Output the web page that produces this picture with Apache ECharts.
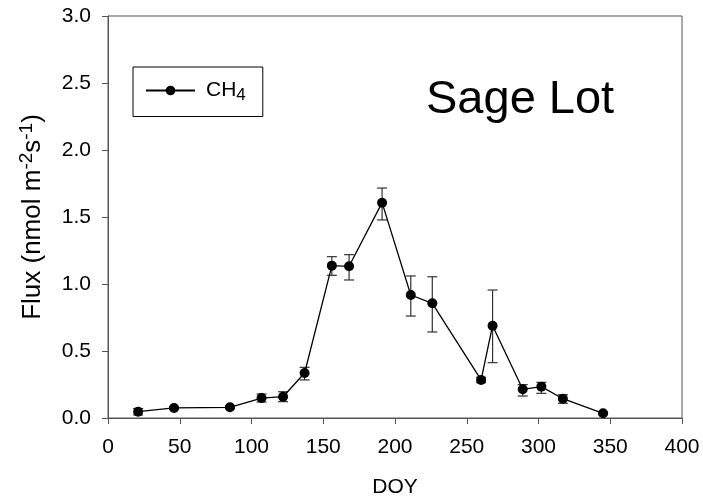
<!DOCTYPE html>
<html>
<head>
<meta charset="utf-8">
<script src="https://cdn.jsdelivr.net/npm/echarts@6/dist/echarts.min.js"></script>
<style>
  html, body { margin: 0; padding: 0; background: #fff; }
  #chart { width: 703px; height: 499px; }
</style>
</head>
<body>
<div id="chart"></div>
<script>
// 数据
const doy = [21, 46, 85, 107, 122, 137, 156, 168, 191, 211, 226, 260, 268, 289, 302, 317, 345];
const flux = [0.047, 0.075, 0.08, 0.149, 0.159, 0.336, 1.137, 1.132, 1.607, 0.918, 0.856, 0.284, 0.689, 0.214, 0.234, 0.144, 0.035];
const fluxUpper = [0.071, 0.085, 0.09, 0.179, 0.196, 0.378, 1.204, 1.219, 1.716, 1.06, 1.054, 0.304, 0.955, 0.249, 0.266, 0.174, 0.045];
const fluxLower = [0.023, 0.065, 0.07, 0.119, 0.122, 0.284, 1.065, 1.03, 1.478, 0.761, 0.642, 0.264, 0.413, 0.164, 0.184, 0.11, 0.025];
const xTicks = [0, 50, 100, 150, 200, 250, 300, 350, 400];
const yTicks = [0, 0.5, 1.0, 1.5, 2.0, 2.5, 3.0];

(function () {
    const el = document.getElementById('chart')
    const chart = echarts.init(el)
    const font = 'Liberation Sans, Arial, sans-serif'
    const axisColor = '#555'

    const points = doy.map((d, i) => [d, flux[i]])
    const bars = doy.map((d, i) => [d, fluxLower[i], fluxUpper[i]])

    //误差线
    function renderError(params, api) {
        const x = api.value(0)
        const lo = api.coord([x, api.value(1)])
        const hi = api.coord([x, api.value(2)])
        const half = 5
        const style = { stroke: '#333', lineWidth: 1.2 }
        return {
            type: 'group',
            children: [
                { type: 'line', shape: { x1: lo[0], y1: lo[1], x2: hi[0], y2: hi[1] }, style: style },
                { type: 'line', shape: { x1: hi[0] - half, y1: hi[1], x2: hi[0] + half, y2: hi[1] }, style: style },
                { type: 'line', shape: { x1: lo[0] - half, y1: lo[1], x2: lo[0] + half, y2: lo[1] }, style: style }
            ]
        }
    }

    const option = {
        backgroundColor: '#fff',
        animation: false,
        textStyle: { fontFamily: font },
        title: {
            text: 'Sage Lot',
            left: 421,
            top: 72,
            textStyle: { fontFamily: font, fontSize: 47, fontWeight: 'normal', color: '#000' }
        },
        legend: {
            left: 133,
            top: 67,
            padding: [13, 17, 13, 12],
            borderColor: '#000',
            borderWidth: 1,
            itemWidth: 49,
            itemHeight: 12,
            itemGap: 0,
            data: ['CH4'],
            formatter: function () { return 'CH{sub|4}' },
            textStyle: {
                fontFamily: font,
                fontSize: 21,
                color: '#000',
                padding: [0, 0, 0, 6],
                rich: {
                    sub: { fontFamily: font, fontSize: 17, color: '#000', padding: [9, 0, 0, 0] }
                }
            }
        },
        grid: {
            left: 108,
            right: 21,
            top: 16,
            bottom: 81,
            outerBoundsMode: 'none',
            containLabel: false,
            show: true,
            borderColor: axisColor,
            borderWidth: 1,
            backgroundColor: 'transparent'
        },
        xAxis: {
            type: 'value',
            min: xTicks[0],
            max: xTicks[xTicks.length - 1],
            interval: 50,
            name: 'DOY',
            nameLocation: 'middle',
            nameGap: 59,
            nameTextStyle: { fontFamily: font, fontSize: 21, color: '#000' },
            axisLine: { show: true, lineStyle: { color: axisColor, width: 1 } },
            axisTick: { show: true, inside: false, length: 6, lineStyle: { color: axisColor } },
            axisLabel: { margin: 19, fontFamily: font, fontSize: 21, color: '#000' },
            splitLine: { show: false }
        },
        yAxis: {
            type: 'value',
            min: yTicks[0],
            max: yTicks[yTicks.length - 1],
            interval: 0.5,
            name: 'Flux (nmol m{sup|-2}s{sup|-1})',
            nameLocation: 'middle',
            nameGap: 60,
            nameTextStyle: {
                fontFamily: font,
                fontSize: 26,
                color: '#000',
                rich: {
                    sup: { fontFamily: font, fontSize: 19, color: '#000', padding: [0, 0, 12, 0] }
                }
            },
            axisLine: { show: true, lineStyle: { color: axisColor, width: 1 } },
            axisTick: { show: true, inside: false, length: 6, lineStyle: { color: axisColor } },
            axisLabel: {
                margin: 17,
                fontFamily: font,
                fontSize: 21,
                color: '#000',
                formatter: v => v.toFixed(1)
            },
            splitLine: { show: false }
        },
        series: [
            {
                name: 'CH4',
                type: 'line',
                data: points,
                symbol: 'circle',
                symbolSize: 10,
                itemStyle: { color: '#000' },
                lineStyle: { color: '#000', width: 1.3 },
                z: 3
            },
            {
                name: 'err',
                type: 'custom',
                data: bars,
                renderItem: renderError,
                encode: { x: 0, y: [1, 2] },
                z: 2
            }
        ]
    }

    chart.setOption(option)
    window.addEventListener('resize', () => {
        chart.resize()
    })
})();
</script>
</body>
</html>
